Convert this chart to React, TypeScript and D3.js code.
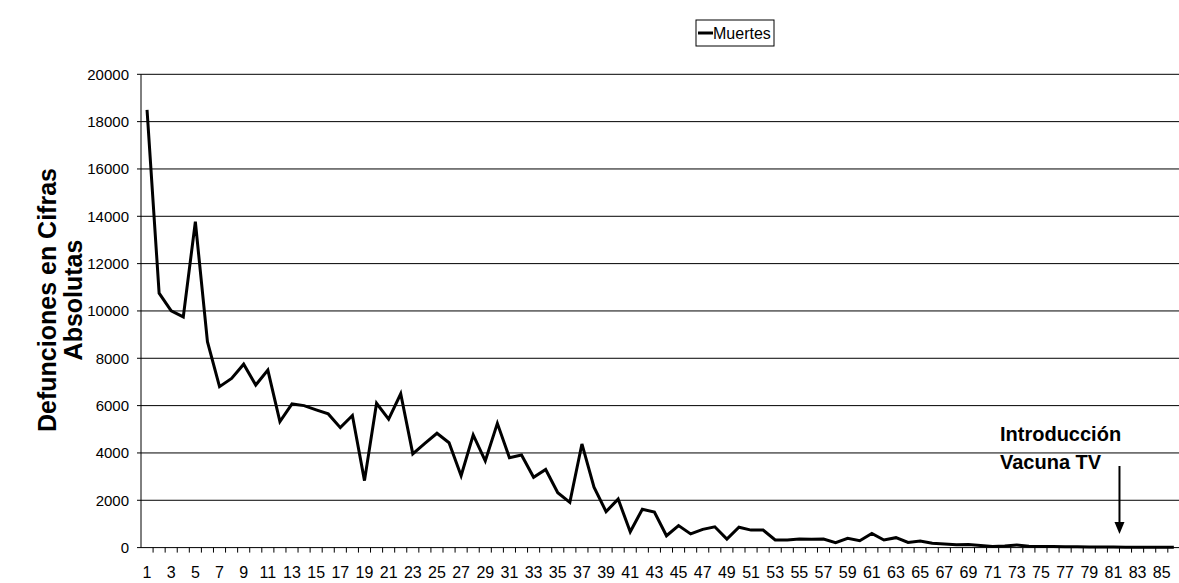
import React from "react";
import * as d3 from "d3";

const WIDTH = 1179;
const HEIGHT = 583;

// x categories (periods) and deaths per period
const periods = d3.range(1, 87);
const deaths = [
  18500, 10750, 10000, 9750, 13770, 8700, 6800, 7150, 7750, 6870,
  7500, 5320, 6070, 6000, 5820, 5650, 5070, 5580, 2830, 6100,
  5430, 6500, 3960, 4400, 4830, 4430, 3040, 4760, 3660, 5250,
  3800, 3910, 2970, 3300, 2320, 1910, 4380, 2550, 1520, 2050,
  670, 1620, 1500, 500, 930, 580, 770, 880, 360, 860,
  740, 740, 320, 320, 360, 350, 360, 210, 390, 290,
  600, 320, 420, 220, 280, 180, 150, 120, 130, 90,
  50, 70, 110, 60, 50, 45, 40, 40, 30, 30,
  25, 20, 20, 15, 15, 10,
];
const yTicks = [0, 2000, 4000, 6000, 8000, 10000, 12000, 14000, 16000, 18000, 20000];
const seriesName = "Muertes";
const yTitle = ["Defunciones en Cifras", "Absolutas"];
const note = ["Introducción", "Vacuna TV"];
const notePeriod = 81;

const FONT = "'Liberation Sans', Arial, sans-serif";

export default function App() {
  const left = 141;
  const top = 74.3;
  const bottom = 547.6;
  const step = 12.08;

  const x = d3
    .scaleBand<number>()
    .domain(periods)
    .range([left, left + step * periods.length]);
  const y = d3.scaleLinear().domain([0, 20000]).range([bottom, top]);

  const cx = (d: number) => (x(d) as number) + x.bandwidth() / 2;

  const line = d3
    .line<number>()
    .x((d, i) => cx(periods[i]))
    .y((d) => y(d));

  // arrow sits on the tick right after the note period
  const arrowX = (x(notePeriod) as number) + x.bandwidth();

  return (
    <svg
      width={WIDTH}
      height={HEIGHT}
      style={{ position: "absolute", left: 0, top: 0, background: "#fff" }}
      fontFamily={FONT}
    >
      {/* gridlines + y ticks */}
      {yTicks.map((t) => (
        <g key={t}>
          {t > 0 && (
            <line x1={left} x2={WIDTH} y1={y(t)} y2={y(t)} stroke="#000" strokeWidth={1} />
          )}
          <line x1={left - 4} x2={left} y1={y(t)} y2={y(t)} stroke="#000" />
          <text
            x={left - 12}
            y={y(t)}
            dy="0.35em"
            textAnchor="end"
            fontSize={15}
            fill="#000"
          >
            {t}
          </text>
        </g>
      ))}

      {/* axes */}
      <line x1={left} x2={left} y1={top} y2={bottom} stroke="#000" />
      <line x1={left} x2={WIDTH} y1={bottom} y2={bottom} stroke="#000" />
      {periods.map((p) => (
        <line
          key={p}
          x1={(x(p) as number) + x.bandwidth()}
          x2={(x(p) as number) + x.bandwidth()}
          y1={bottom}
          y2={bottom + 5}
          stroke="#000"
        />
      ))}
      {periods
        .filter((p) => p % 2 === 1)
        .map((p) => (
          <text key={p} x={cx(p)} y={578} textAnchor="middle" fontSize={16} fill="#000">
            {p}
          </text>
        ))}

      {/* y title */}
      <g transform={`translate(0, 300) rotate(-90)`}>
        <text x={0} y={56} textAnchor="middle" fontSize={25} fontWeight="bold">
          {yTitle[0]}
        </text>
        <text x={0} y={82} textAnchor="middle" fontSize={25} fontWeight="bold">
          {yTitle[1]}
        </text>
      </g>

      {/* series */}
      <path d={line(deaths) ?? ""} fill="none" stroke="#000" strokeWidth={3} strokeLinejoin="miter" />

      {/* annotation */}
      <text x={1000} y={441} fontSize={20} fontWeight="bold">
        {note[0]}
      </text>
      <text x={1000} y={469} fontSize={20} fontWeight="bold">
        {note[1]}
      </text>
      <line x1={arrowX} x2={arrowX} y1={466} y2={524} stroke="#000" strokeWidth={2} />
      <path d={`M${arrowX - 5},${522} L${arrowX + 5},${522} L${arrowX},${534} Z`} fill="#000" />

      {/* legend */}
      <g transform="translate(696, 20)">
        <rect x={0} y={0} width={78} height={26} fill="#fff" stroke="#000" />
        <line x1={2} x2={17} y1={13} y2={13} stroke="#000" strokeWidth={3} />
        <text x={17} y={19} fontSize={16}>
          {seriesName}
        </text>
      </g>
    </svg>
  );
}
